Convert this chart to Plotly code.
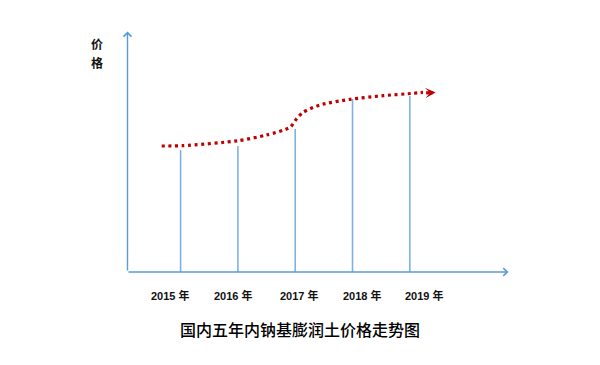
import plotly.graph_objects as go

# ---- data ----
years = [2015, 2016, 2017, 2018, 2019]
price = [122, 126, 143, 173, 176]          # height of each year's line (relative price)
tick_labels = ["2015 年", "2016 年", "2017 年", "2018 年", "2019 年"]

trend_year = [2014.67, 2015.04, 2016.00, 2016.50, 2016.91, 2017.03, 2017.14,
              2017.43, 2017.96, 2018.53, 2019.06, 2019.23]
trend_price = [126, 126.3, 131.3, 137, 144.7, 153.7, 159.7,
               167, 172.7, 176.3, 178.7, 179.7]
arrow_tip = (2019.45, 179.5)

title_text = "国内五年内钠基膨润土价格走势图"
ylabel_chars = ["价", "格"]

# ---- layout helpers ----
# the page body has an 8px margin, so the figure is drawn 8px in from the corner
OFF = 8
W, H = 600 - OFF, 365 - OFF
XR = [2011.988, 2022.319]
YR = [-93, 264]
label_offsets = [-0.17, -0.08, 0.07, 0.18, 0.25]   # label shift from its year (in years)

AXIS_BLUE = "#5B9BD5"
LINE_BLUE = "#7FB2E3"
RED = "#C00000"

fig = go.Figure()

# vertical year lines
vx, vy = [], []
for yr, p in zip(years, price):
    vx += [yr, yr, None]
    vy += [0, p, None]
fig.add_trace(go.Scatter(x=vx, y=vy, mode="lines",
                         line=dict(color=LINE_BLUE, width=1.6),
                         hoverinfo="skip", showlegend=False))

# dotted trend curve
fig.add_trace(go.Scatter(x=trend_year, y=trend_price, mode="lines",
                         line=dict(color=RED, width=3.2, dash="3px,3.6px",
                                   shape="spline", smoothing=0.7),
                         hoverinfo="skip", showlegend=False))

ann = []
# arrowhead of trend
ann.append(dict(x=arrow_tip[0], y=arrow_tip[1], xref="x", yref="y",
                ax=-11, ay=0.5, axref="pixel", ayref="pixel",
                showarrow=True, arrowhead=3, arrowsize=0.55, arrowwidth=3.2,
                arrowcolor=RED, text=""))

# axes with open arrow heads (paper coords, given in page pixels)
def px(x):
    return (x - OFF) / W
def py(y):
    return 1 - (y - OFF) / H

ann.append(dict(x=px(127.5), y=py(31.5), xref="paper", yref="paper",
                ax=0, ay=240.5, showarrow=True, arrowhead=4, arrowsize=1.1,
                arrowwidth=1.4, arrowcolor=AXIS_BLUE, text=""))
ann.append(dict(x=px(508.5), y=py(272), xref="paper", yref="paper",
                ax=-381.5, ay=0, showarrow=True, arrowhead=4, arrowsize=1.1,
                arrowwidth=1.4, arrowcolor=AXIS_BLUE, text=""))

# year labels
for yr, off, t in zip(years, label_offsets, tick_labels):
    ann.append(dict(x=yr + off, y=py(295), xref="x", yref="paper",
                    text="<b>%s</b>" % t, showarrow=False,
                    font=dict(family="Liberation Sans, Noto Sans CJK SC", size=11, color="#111"),
                    xanchor="center", yanchor="middle"))

# y label characters
for i, ch in enumerate(ylabel_chars):
    ann.append(dict(x=px(96.5), y=py(43.5 + 19 * i), xref="paper", yref="paper",
                    text="<b>%s</b>" % ch, showarrow=False,
                    font=dict(family="Noto Sans CJK SC", size=12, color="#111"),
                    xanchor="center", yanchor="middle"))

# title
ann.append(dict(x=px(300), y=py(329), xref="paper", yref="paper",
                text=title_text, showarrow=False,
                font=dict(family="Noto Sans CJK SC", size=16, color="#000", weight=500),
                xanchor="center", yanchor="middle"))

fig.update_layout(
    width=W, height=H,
    margin=dict(l=0, r=0, t=0, b=0),
    paper_bgcolor="white", plot_bgcolor="white",
    xaxis=dict(range=XR, visible=False, fixedrange=True),
    yaxis=dict(range=YR, visible=False, fixedrange=True),
    annotations=ann,
    showlegend=False,
)

fig.write_html("out.html")
